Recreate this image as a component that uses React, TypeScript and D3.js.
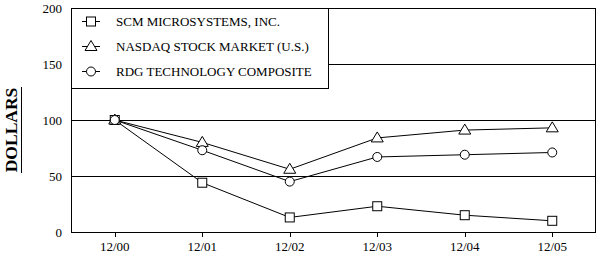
import React from "react";
import * as d3 from "d3";

const categories = ["12/00", "12/01", "12/02", "12/03", "12/04", "12/05"];
const scmValues = [100, 44, 13, 23, 15, 10];
const nasdaqValues = [100, 80, 56, 84, 91, 93];
const rdgValues = [100, 73, 45, 67, 69, 71];
const yTicks = [0, 50, 100, 150, 200];
const seriesNames = ["SCM MICROSYSTEMS, INC.", "NASDAQ STOCK MARKET (U.S.)", "RDG TECHNOLOGY COMPOSITE"];

const W = 597, H = 255;
const L = 71, R = 596, T = 8, B = 232;
const FONT = "Liberation Serif, DejaVu Serif, serif";
const ts = { fontFamily: FONT };

type Kind = "square" | "triangle" | "circle";

function Marker({ kind, x, y }: { kind: Kind; x: number; y: number }) {
  if (kind === "square") return <rect x={x - 4.5} y={y - 4.5} width={9} height={9} fill="#fff" stroke="#000" strokeWidth={1} />;
  if (kind === "circle") return <circle cx={x} cy={y} r={4.5} fill="#fff" stroke="#000" strokeWidth={1} />;
  return <path d={`M${x},${y - 6}L${x + 6},${y + 4}L${x - 6},${y + 4}Z`} fill="#fff" stroke="#000" strokeWidth={1} />;
}

export default function App() {
  const x = d3.scalePoint<string>().domain(categories).range([L, R]).padding(0.5);
  const y = d3.scaleLinear().domain([0, 200]).range([B, T]);
  const line = d3.line<number>().x((_, i) => x(categories[i])!).y((d) => y(d));
  const series: { vals: number[]; kind: Kind }[] = [
    { vals: scmValues, kind: "square" },
    { vals: nasdaqValues, kind: "triangle" },
    { vals: rdgValues, kind: "circle" },
  ];
  const legendRows = [21.5, 46.5, 71.5];
  return (
    <svg width={W} height={H} style={{ position: "absolute", left: 0, top: 0, background: "#fff", fontFamily: FONT }}>
      <rect x={0} y={0} width={W} height={H} fill="#fff" />
      {yTicks.filter((t) => t > 0 && t < 200).map((t) => (
        <line key={t} x1={L} x2={R} y1={Math.round(y(t)) + 0.5} y2={Math.round(y(t)) + 0.5} stroke="#000" strokeWidth={1} />
      ))}
      <rect x={L + 0.5} y={T + 0.5} width={R - L - 1} height={B - T} fill="none" stroke="#000" strokeWidth={1} />
      {categories.map((c) => (
        <g key={c}>
          <line x1={Math.round(x(c)!) + 0.5} x2={Math.round(x(c)!) + 0.5} y1={B} y2={B + 5} stroke="#000" />
          <text x={x(c)} y={251} textAnchor="middle" fontSize={13} style={ts}>{c}</text>
        </g>
      ))}
      {yTicks.map((t) => (
        <text key={t} x={62} y={y(t) + 4.5} textAnchor="end" fontSize={13} style={ts}>{t}</text>
      ))}
      <text transform="translate(17,130) rotate(-90)" textAnchor="middle" fontSize={17.5} fontWeight="bold" style={ts}>DOLLARS</text>
      <line x1={21.5} x2={21.5} y1={87} y2={173} stroke="#000" strokeWidth={1} />
      {series.map((s, si) => (
        <g key={si}>
          <path d={line(s.vals)!} fill="none" stroke="#000" strokeWidth={1} />
          {s.vals.map((v, i) => (
            <Marker key={i} kind={s.kind} x={x(categories[i])!} y={y(v)} />
          ))}
        </g>
      ))}
      <rect x={L + 0.5} y={T + 0.5} width={328 - L} height={80} fill="#fff" stroke="#000" strokeWidth={1} />
      {series.map((s, i) => (
        <g key={i}>
          <line x1={82} x2={100} y1={legendRows[i]} y2={legendRows[i]} stroke="#000" />
          <Marker kind={s.kind} x={91} y={legendRows[i]} />
          <text x={116} y={legendRows[i] + 4.5} fontSize={13} style={ts}>{seriesNames[i]}</text>
        </g>
      ))}
    </svg>
  );
}
